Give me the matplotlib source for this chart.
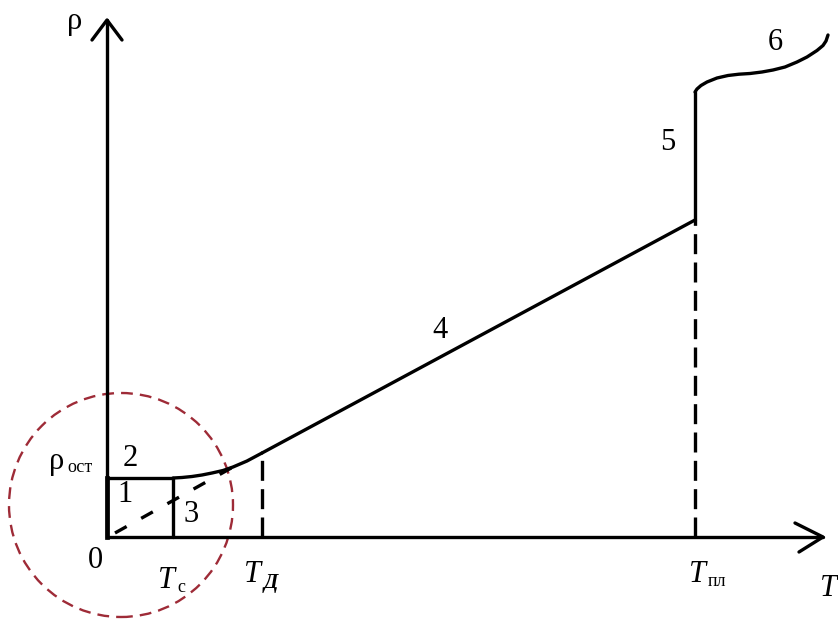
import matplotlib.pyplot as plt
from matplotlib.patches import Circle

plt.rcParams['font.family'] = ['Liberation Serif', 'DejaVu Serif']

# characteristic temperatures and residual resistivity (arbitrary units)
T_c = 66
T_D = 155
T_pl = 588
rho_res = 59

# superconducting jump and low-temperature rise up to the Debye temperature
T_low = [66, 75, 85, 95, 105, 116, 126, 140, 155]
rho_low = [59, 59.5, 60.5, 62, 64, 66.5, 70, 76, 84]

# linear region 4, up to the melting point
T_lin = [155, 588]
rho_lin = [84, 317]

# melting jump 5 and liquid metal 6
T_melt = [588, 588]
rho_melt = [317, 445]
T_liq = [588, 590, 594, 600, 610, 621, 632, 643, 655, 666, 678, 690, 700,
         710, 716, 719, 721]
rho_liq = [445, 448, 451.5, 455, 459, 461.5, 462.8, 463.5, 465, 467, 470,
           475, 480, 486.5, 491.5, 496, 502]

# extrapolation of the normal state below T_c (dashed)
T_ext = [8, 126]
rho_ext = [4, 70]

fig = plt.figure(figsize=(8.38, 6.2), dpi=100)
ax = fig.add_axes([0, 0, 1, 1])
ax.set_xlim(-107, 731)
ax.set_ylim(-83, 537)
ax.axis('off')

lw = 2.4
k = 'black'
opts = dict(color=k, lw=lw, solid_capstyle='round', solid_joinstyle='round')

# axes with open arrowheads
ax.plot([0, 0], [0, 517], **opts)
ax.plot([-15, 0, 15], [497, 517, 497], **opts)
ax.plot([0, 716], [0, 0], **opts)
ax.plot([688, 716, 692], [14, 0, -15], **opts)

# residual resistivity plateau and superconducting transition
ax.plot([0, T_c], [rho_res, rho_res], **opts)
ax.plot([T_c, T_c], [0, rho_res], **opts)
ax.plot([0, 0], [0, rho_res], color=k, lw=lw + 1)

ax.plot(T_low, rho_low, **opts)
ax.plot(T_lin, rho_lin, **opts)
ax.plot(T_melt, rho_melt, **opts)
ax.plot(T_liq, rho_liq, **opts)

ax.plot(T_ext, rho_ext, color=k, lw=lw, dashes=(4, 5))
ax.plot([T_D, T_D], [0, rho_low[-1]], color=k, lw=lw, dashes=(6, 2.5))
ax.plot([T_pl, T_pl], [0, rho_lin[-1]], color=k, lw=lw, dashes=(6, 2.5))

# highlighted low-temperature region
ax.add_patch(Circle((14, 32), 112, fill=False, edgecolor='#9e2b37',
                    lw=1.7, ls=(0, (5, 3))))

fs = 22
ax.text(-32, 515, 'ρ', fontsize=fs, ha='center', va='center')
ax.text(-50, 75, 'ρ', fontsize=fs, ha='center', va='center')
ax.text(-40, 69, 'ост', fontsize=13, ha='left', va='center')
ax.text(-12, -24, '0', fontsize=fs, ha='center', va='center')

ax.text(23, 79, '2', fontsize=fs, ha='center', va='center')
ax.text(18, 42, '1', fontsize=fs, ha='center', va='center')
ax.text(84, 22, '3', fontsize=fs, ha='center', va='center')
ax.text(333, 207, '4', fontsize=fs, ha='center', va='center')
ax.text(561, 394, '5', fontsize=fs, ha='center', va='center')
ax.text(668, 494, '6', fontsize=fs, ha='center', va='center')

ax.text(59, -43, 'T', fontsize=fs, style='italic', ha='center', va='center')
ax.text(70, -50, 'с', fontsize=13, ha='left', va='center')
ax.text(145, -38, 'T', fontsize=fs, style='italic', ha='center', va='center')
ax.text(157, -46, 'Д', fontsize=15, style='italic', weight='bold',
        ha='left', va='center')
ax.text(590, -38, 'T', fontsize=fs, style='italic', ha='center', va='center')
ax.text(601, -45, 'пл', fontsize=13, ha='left', va='center')
ax.text(721, -52, 'T', fontsize=fs, style='italic', ha='center', va='center')

fig.savefig('out.png', dpi=100)
